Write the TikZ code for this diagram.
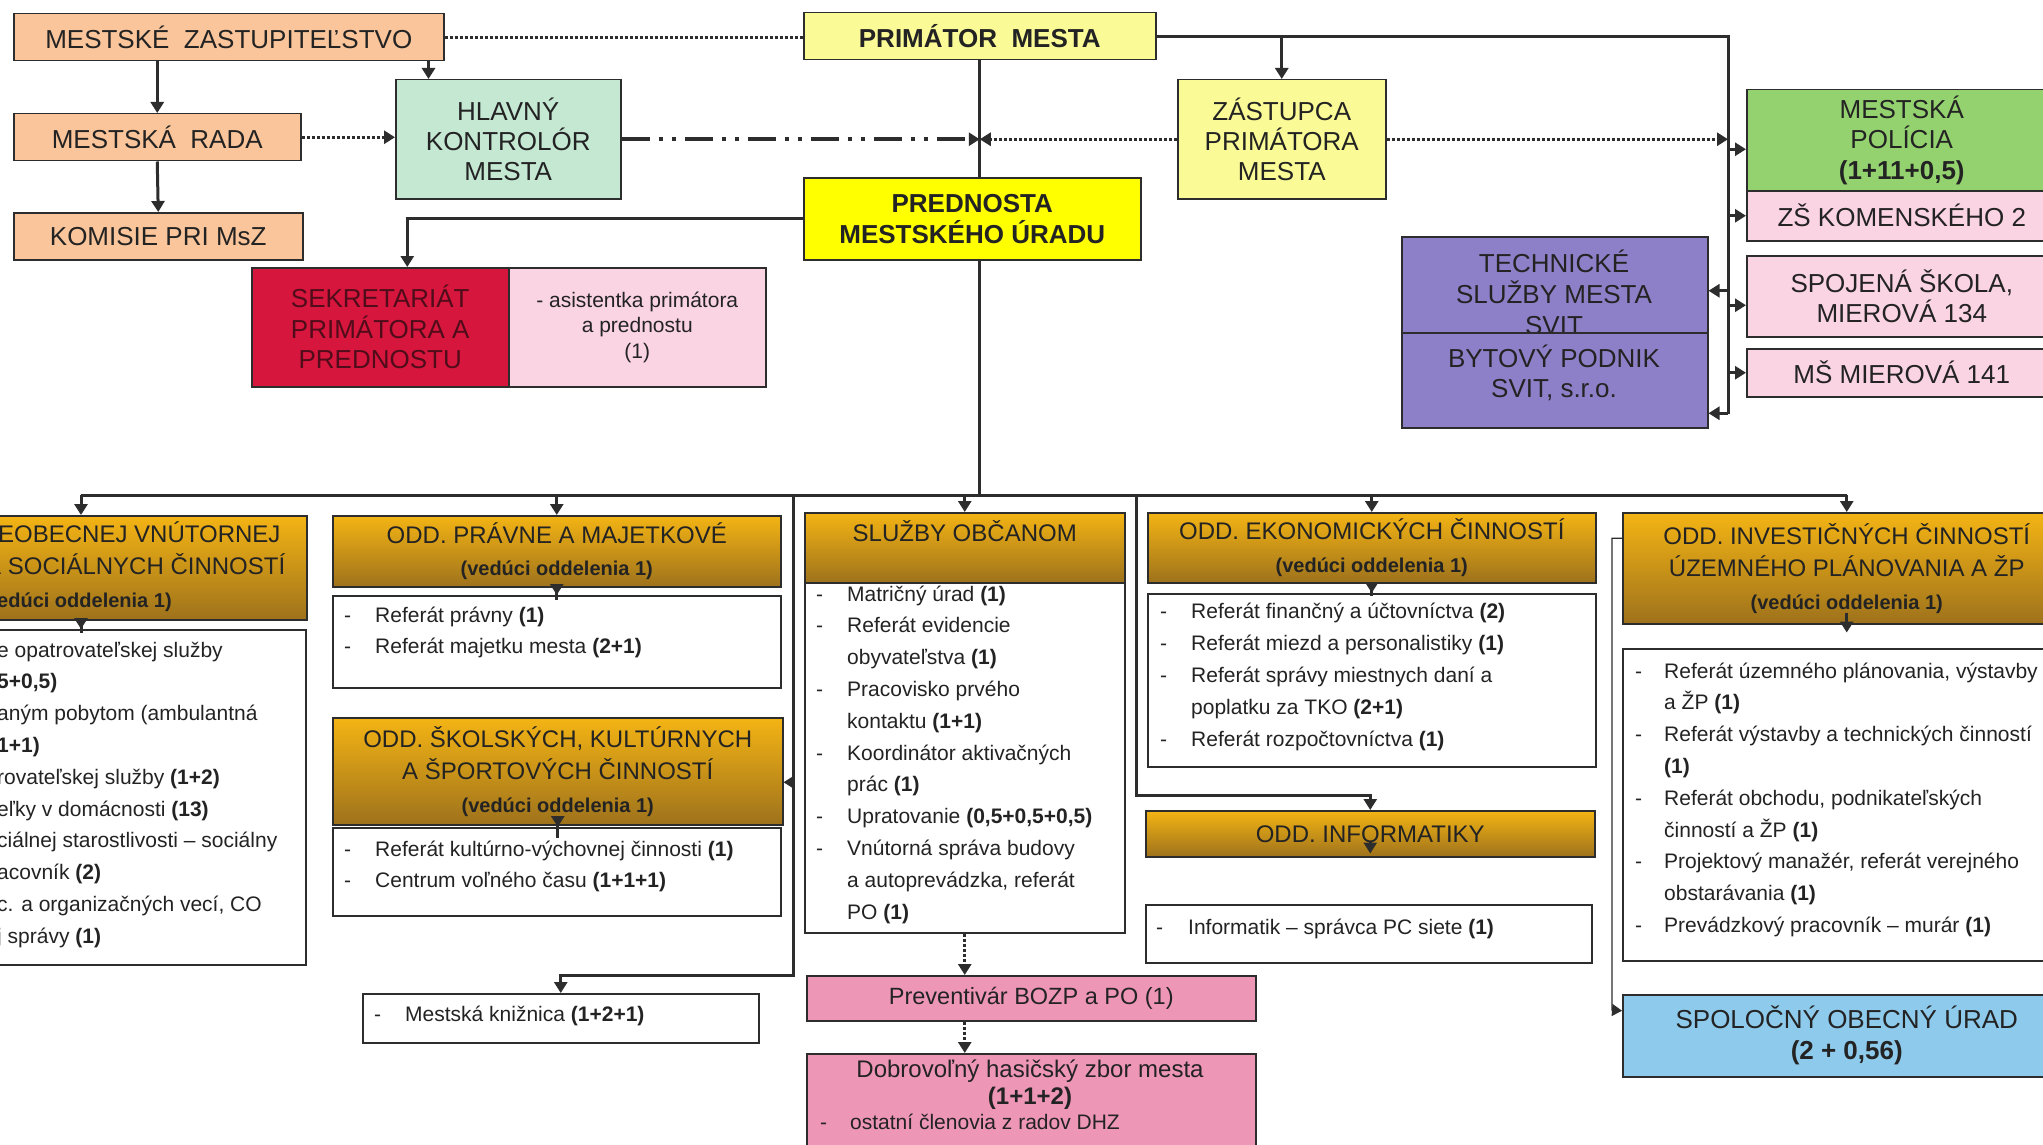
\documentclass[tikz,border=0pt]{standalone}
\usepackage{fontspec}
\setmainfont{Liberation Sans}
\usetikzlibrary{arrows.meta}

\definecolor{txt}{RGB}{35,35,35}
\definecolor{bdr}{RGB}{45,45,45}
\definecolor{peach}{RGB}{250,197,154}
\definecolor{mint}{RGB}{196,232,210}
\definecolor{paleyel}{RGB}{250,250,150}
\definecolor{brightyel}{RGB}{255,255,0}
\definecolor{crimson}{RGB}{214,22,60}
\definecolor{maroontxt}{RGB}{80,12,26}
\definecolor{palepink}{RGB}{250,212,226}
\definecolor{lilac}{RGB}{142,128,200}
\definecolor{leaf}{RGB}{148,210,112}
\definecolor{rosepink}{RGB}{238,150,182}
\definecolor{skyblue}{RGB}{142,202,236}
\definecolor{goldT}{RGB}{244,180,20}
\definecolor{goldB}{RGB}{158,114,28}

\newcommand{\veduci}{{\fontsize{20}{32.5}\selectfont\bfseries (vedúci oddelenia 1)}}

\tikzset{
  box/.style={draw=bdr, line width=1.5pt, anchor=north west, inner sep=0pt,
    align=center, text=txt, font=\fontsize{26}{31}\selectfont},
  hdr/.style={box, top color=goldT, bottom color=goldB, font=\fontsize{24}{32.5}\selectfont},
  lbox/.style={draw=bdr, line width=1.5pt, anchor=north west, inner sep=0pt, fill=white},
  tnode/.style={inner sep=0pt, align=center, text=txt, font=\fontsize{26}{31}\selectfont},
  lst/.style={anchor=base west, inner sep=0pt, text=txt, font=\fontsize{21}{31.8}\selectfont},
  conn/.style={draw=bdr, line width=3pt},
  arr/.style={conn, -{Triangle[length=11pt,width=13pt]}},
  dotarr/.style={arr, dash pattern=on 3pt off 2pt},
  dotline/.style={conn, dash pattern=on 3pt off 2pt},
  dashdotarr/.style={arr, line width=3.5pt, dash pattern=on 28pt off 9pt on 4pt off 9pt on 4pt off 9pt},
  thinarr/.style={draw=bdr, line width=1.2pt, -{Triangle[length=10pt,width=12pt]}},
}

\begin{document}
\begin{tikzpicture}[x=1pt, y=-1pt]
\useasboundingbox (0,0) rectangle (2043,1145);
\clip (0,0) rectangle (2043,1145);
\fill[white] (0,0) rectangle (2043,1145);

% samosprava
\node[box, fill=peach, minimum width=430pt, minimum height=47pt] (msz) at (13,13) {MESTSKÉ\ \ ZASTUPITEĽSTVO};
\node[box, fill=peach, minimum width=287pt, minimum height=47pt] (rada) at (13,113) {MESTSKÁ\ \ RADA};
\node[box, fill=peach, minimum width=289pt, minimum height=47pt] (komisie) at (13,212) {KOMISIE PRI MsZ};
\node[box, fill=mint, minimum width=225pt, minimum height=119pt, font=\fontsize{26}{30}\selectfont] (hk) at (395,79) {HLAVNÝ\\KONTROLÓR\\MESTA};

% vedenie
\node[box, fill=paleyel, minimum width=352pt, minimum height=47pt, font=\fontsize{26}{31}\selectfont\bfseries] (prim) at (803,12) {PRIMÁTOR\ \ MESTA};
\node[box, fill=brightyel, minimum width=337pt, minimum height=82pt, font=\fontsize{26}{31}\selectfont\bfseries] (pred) at (803,177) {PREDNOSTA\\MESTSKÉHO ÚRADU};
\node[box, fill=paleyel, minimum width=208pt, minimum height=119pt, font=\fontsize{26}{30}\selectfont] (zast) at (1177,79) {ZÁSTUPCA\\PRIMÁTORA\\MESTA};
\node[box, fill=crimson, minimum width=257pt, minimum height=119pt, text=maroontxt, font=\fontsize{26}{30.5}\selectfont] (sekr) at (251,267) {SEKRETARIÁT\\PRIMÁTORA A\\PREDNOSTU};
\node[box, fill=palepink, minimum width=257pt, minimum height=119pt, font=\fontsize{21}{25.5}\selectfont] (asist) at (508,267) {- asistentka primátora\\a prednostu\\(1)};

% organizacie mesta
\node[box, fill=lilac, minimum width=306pt, minimum height=96pt] (tech) at (1401,236) {};
\node[tnode] (techT) at (1554,292) {TECHNICKÉ\\SLUŽBY MESTA\\SVIT};
\node[box, fill=lilac, minimum width=306pt, minimum height=95pt] (byt) at (1401,332) {};
\node[tnode, font=\fontsize{26}{30}\selectfont] (bytT) at (1554,373) {BYTOVÝ PODNIK\\SVIT, s.r.o.};
\node[box, fill=leaf, minimum width=310pt, minimum height=101pt, font=\fontsize{26}{30.5}\selectfont] (pol) at (1746,89) {MESTSKÁ\\POLÍCIA\\\textbf{(1+11+0,5)}};
\node[box, fill=palepink, minimum width=310pt, minimum height=50pt] (zs) at (1746,190) {ZŠ KOMENSKÉHO 2};
\node[box, fill=palepink, minimum width=310pt, minimum height=81pt, font=\fontsize{26}{30}\selectfont] (spoj) at (1746,255) {SPOJENÁ ŠKOLA,\\MIEROVÁ 134};
\node[box, fill=palepink, minimum width=310pt, minimum height=48pt] (ms) at (1746,348) {MŠ MIEROVÁ 141};

% oddelenia
\node[hdr, minimum width=450pt, minimum height=104pt] (vnH) at (-144,515) {};
\node[anchor=base west, inner sep=0pt, text=txt, font=\fontsize{24}{32.5}\selectfont] (vnHt) at (-2,542) {\begin{tabular}[t]{@{}l@{}}
EOBECNEJ VNÚTORNEJ\\
\hspace*{-13pt}A SOCIÁLNYCH ČINNOSTÍ\\
\hspace*{-1pt}{\fontsize{20}{32.5}\selectfont\bfseries edúci oddelenia 1)}
\end{tabular}};
\node[lbox, minimum width=449pt, minimum height=335pt] (vnB) at (-144,629) {};
\node[lst] (vnT) at (-3,657) {\begin{tabular}[t]{@{}l@{}}
e opatrovateľskej služby\\
\textbf{5+0,5)}\\
aným pobytom (ambulantná\\
\textbf{1+1)}\\
rovateľskej služby \textbf{(1+2)}\\
eľky v domácnosti \textbf{(13)}\\
ciálnej starostlivosti – sociálny\\
acovník \textbf{(2)}\\
c. a organizačných vecí, CO\\
j správy \textbf{(1)}
\end{tabular}};

\node[hdr, minimum width=448pt, minimum height=71pt] (pravH) at (332,515) {ODD. PRÁVNE A MAJETKOVÉ\\\veduci};
\node[lbox, minimum width=448pt, minimum height=92pt] (pravB) at (332,595) {};
\node[lst] (pravT) at (344,622) {\begin{tabular}[t]{@{}p{31pt}@{}l@{}}
- & Referát právny \textbf{(1)}\\
- & Referát majetku mesta \textbf{(2+1)}
\end{tabular}};

\node[hdr, minimum width=450pt, minimum height=107pt] (skolH) at (332,717) {ODD. ŠKOLSKÝCH, KULTÚRNYCH\\A ŠPORTOVÝCH ČINNOSTÍ\\\veduci};
\node[lbox, minimum width=448pt, minimum height=88pt] (skolB) at (332,827) {};
\node[lst] (skolT) at (344,856) {\begin{tabular}[t]{@{}p{31pt}@{}l@{}}
- & Referát kultúrno-výchovnej činnosti \textbf{(1)}\\
- & Centrum voľného času \textbf{(1+1+1)}
\end{tabular}};

\node[lbox, minimum width=396pt, minimum height=49pt] (kniz) at (362,993) {};
\node[lst] (knizT) at (374,1021) {\begin{tabular}[t]{@{}p{31pt}@{}l@{}}
- & Mestská knižnica \textbf{(1+2+1)}
\end{tabular}};

\node[hdr, minimum width=320pt, minimum height=70pt] (sluzH) at (804,512) {SLUŽBY OBČANOM\\ };
\node[lbox, minimum width=320pt, minimum height=350pt] (sluzB) at (804,582) {};
\node[lst] (sluzT) at (816,601) {\begin{tabular}[t]{@{}p{31pt}@{}l@{}}
- & Matričný úrad \textbf{(1)}\\
- & Referát evidencie\\
  & obyvateľstva \textbf{(1)}\\
- & Pracovisko prvého\\
  & kontaktu \textbf{(1+1)}\\
- & Koordinátor aktivačných\\
  & prác \textbf{(1)}\\
- & Upratovanie \textbf{(0,5+0,5+0,5)}\\
- & Vnútorná správa budovy\\
  & a autoprevádzka, referát\\
  & PO \textbf{(1)}
\end{tabular}};

\node[box, fill=rosepink, minimum width=449pt, minimum height=45pt, font=\fontsize{23.5}{28}\selectfont] (prev) at (806,975) {Preventivár BOZP a PO (1)};
\node[box, fill=rosepink, minimum width=449pt, minimum height=100pt] (dhz) at (806,1053) {};
\node[anchor=base, inner sep=0pt, text=txt, font=\fontsize{24}{28}\selectfont] (dhzT) at (1030,1077) {Dobrovoľný hasičský zbor mesta};
\node[anchor=base, inner sep=0pt, text=txt, font=\fontsize{24}{28}\selectfont\bfseries] (dhzN) at (1030,1104) {(1+1+2)};
\node[lst] (dhzL) at (820,1129) {\begin{tabular}[t]{@{}p{30pt}@{}l@{}}
- & ostatní členovia z radov DHZ
\end{tabular}};

\node[hdr, minimum width=448pt, minimum height=70pt] (ekonH) at (1147,512) {ODD. EKONOMICKÝCH ČINNOSTÍ\\\veduci};
\node[lbox, minimum width=448pt, minimum height=173pt] (ekonB) at (1147,593) {};
\node[lst, font=\fontsize{21}{32.2}\selectfont] (ekonT) at (1160,618) {\begin{tabular}[t]{@{}p{31pt}@{}l@{}}
- & Referát finančný a účtovníctva \textbf{(2)}\\
- & Referát miezd a personalistiky \textbf{(1)}\\
- & Referát správy miestnych daní a\\
  & poplatku za TKO \textbf{(2+1)}\\
- & Referát rozpočtovníctva \textbf{(1)}
\end{tabular}};

\node[hdr, minimum width=449pt, minimum height=46pt] (infoH) at (1145,810) {ODD. INFORMATIKY};
\node[lbox, minimum width=446pt, minimum height=58pt] (infoB) at (1145,904) {};
\node[lst] (infoT) at (1156,934) {\begin{tabular}[t]{@{}p{32pt}@{}l@{}}
- & Informatik – správca PC siete \textbf{(1)}
\end{tabular}};

\node[hdr, minimum width=448pt, minimum height=111pt] (invH) at (1622,512) {ODD. INVESTIČNÝCH ČINNOSTÍ\\ÚZEMNÉHO PLÁNOVANIA A ŽP\\\veduci};
\node[lbox, minimum width=448pt, minimum height=312pt] (invB) at (1622,648) {};
\node[lst] (invT) at (1635,678) {\begin{tabular}[t]{@{}p{29pt}@{}l@{}}
- & Referát územného plánovania, výstavby\\
  & a ŽP \textbf{(1)}\\
- & Referát výstavby a technických činností\\
  & \textbf{(1)}\\
- & Referát obchodu, podnikateľských\\
  & činností a ŽP \textbf{(1)}\\
- & Projektový manažér, referát verejného\\
  & obstarávania \textbf{(1)}\\
- & Prevádzkový pracovník – murár \textbf{(1)}
\end{tabular}};

\node[box, fill=skyblue, minimum width=448pt, minimum height=82pt] (spol) at (1622,994) {SPOLOČNÝ OBECNÝ ÚRAD\\\textbf{(2 + 0,56)}};

% body vedenia
\coordinate (rbot) at (1728,414);
\coordinate (busL) at (81,495);
\coordinate (lv) at (793,975);
\coordinate (iv) at (1136,795);
\coordinate (sv) at (1612,1010);
\coordinate (polIn) at ([yshift=-9pt]pol.west);
\coordinate (techIn) at ([yshift=-6pt]tech.east);
\coordinate (spojIn) at ([yshift=-9pt]spoj.west);
\coordinate (bytIn) at ([yshift=-33pt]byt.east);
\coordinate (skolIn) at ([yshift=-11pt]skolH.east);
\coordinate (sekrIn) at ([xshift=27pt]sekr.north);
\coordinate (invOut) at ([yshift=30pt]invH.west);
\coordinate (spolIn) at ([yshift=25pt]spol.west);

% vazby
\draw[dotline] (msz.east) -- (msz.east -| prim.west);
\draw[arr] (rada.north |- msz.south) -- (rada.north);
\draw[arr] (rada.south) -- (komisie.north);
\draw[dotarr] (rada.east) -- (rada.east -| hk.west);
\draw[arr] ([xshift=-16pt]msz.south east) -- ([xshift=-16pt]msz.south east |- hk.north);

\draw[conn] (prim.south) -- (prim.south |- pred.north);
\draw[conn] (prim.south |- pred.south) -- (prim.south |- busL);
\draw[dashdotarr] (hk.east) -- (hk.east -| prim.south);
\draw[dotarr] (zast.west) -- (zast.west -| prim.south);
\draw[arr] (pred.west) -| (sekrIn);

\draw[conn] (prim.east) -| (rbot);
\draw[arr] (zast.north |- prim.east) -- (zast.north);
\draw[dotarr] (zast.east) -- (zast.east -| rbot);
\draw[arr] (polIn -| rbot) -- (polIn);
\draw[arr] (zs.west -| rbot) -- (zs.west);
\draw[arr] (techIn -| rbot) -- (techIn);
\draw[arr] (spojIn -| rbot) -- (spojIn);
\draw[arr] (ms.west -| rbot) -- (ms.west);
\draw[arr] (bytIn -| rbot) -- (bytIn);

% zbernica oddeleni
\draw[conn] (busL) -- (invH.north |- busL);
\draw[arr] (busL) -- (busL |- vnH.north);
\draw[arr] (pravH.north |- busL) -- (pravH.north);
\draw[arr] (sluzH.north |- busL) -- (sluzH.north);
\draw[arr] (ekonH.north |- busL) -- (ekonH.north);
\draw[arr] (invH.north |- busL) -- (invH.north);

\draw[arr] (lv |- busL) -- (lv) -| (kniz.north);
\draw[arr] (skolIn -| lv) -- (skolIn);
\draw[arr] (iv |- busL) -- (iv) -| (infoH.north);
\draw[thinarr] (invOut) -- (invOut -| sv) -- (sv) -- (spolIn);

% vnutri oddeleni
\draw[arr, shorten <=-12pt] (busL |- vnH.south) -- (busL |- vnB.north);
\draw[arr, shorten <=-12pt] (pravH.south) -- (pravH.south |- pravB.north);
\draw[arr, shorten <=-12pt] (skolH.south) -- (skolH.south |- skolB.north);
\draw[arr, shorten <=-12pt] (ekonH.south) -- (ekonH.south |- ekonB.north);
\draw[arr] ([yshift=12pt]invH.south) -- ([yshift=-8pt]invH.south);
\draw[arr] ([yshift=16pt]infoH.south) -- ([yshift=4pt]infoH.south);
\draw[dotarr] (sluzB.south) -- (sluzB.south |- prev.north);
\draw[dotarr] (sluzB.south |- prev.south) -- (sluzB.south |- dhz.north);
\end{tikzpicture}
\end{document}
